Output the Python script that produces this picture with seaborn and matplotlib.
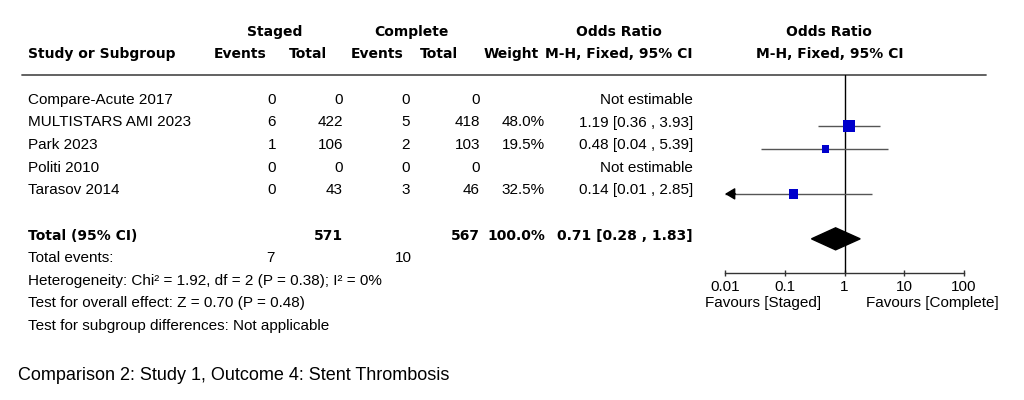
import numpy as np
import pandas as pd
import matplotlib.pyplot as plt
from matplotlib.ticker import NullLocator
import seaborn as sns

# --- Data ---
studies = ['Compare-Acute 2017', 'MULTISTARS AMI 2023', 'Park 2023', 'Politi 2010', 'Tarasov 2014']
staged_events = [0, 6, 1, 0, 0]
staged_total = [0, 422, 106, 0, 43]
complete_events = [0, 5, 2, 0, 3]
complete_total = [0, 418, 103, 0, 46]
weights = [np.nan, 48.0, 19.5, np.nan, 32.5]
or_est = [np.nan, 1.19, 0.48, np.nan, 0.14]
or_lo = [np.nan, 0.36, 0.04, np.nan, 0.01]
or_hi = [np.nan, 3.93, 5.39, np.nan, 2.85]

total_staged = 571
total_complete = 567
total_weight = 100.0
total_or = [0.71, 0.28, 1.83]
total_events = [7, 10]

stats_lines = [
    'Heterogeneity: Chi\u00b2 = 1.92, df = 2 (P = 0.38); I\u00b2 = 0%',
    'Test for overall effect: Z = 0.70 (P = 0.48)',
    'Test for subgroup differences: Not applicable',
]
tick_vals = [0.01, 0.1, 1, 10, 100]
tick_labels = ['0.01', '0.1', '1', '10', '100']
caption = 'Comparison 2: Study 1, Outcome 4: Stent Thrombosis'

df = pd.DataFrame({'study': studies, 'est': or_est, 'lo': or_lo, 'hi': or_hi,
                   'weight': weights})
df['row'] = np.arange(len(df))

# --- Style ---
sns.set_theme(style='white')
plt.rcParams['font.family'] = ['Liberation Sans', 'DejaVu Sans']

fig = plt.figure(figsize=(10.24, 4), dpi=100)

# overlay axes in pixel units for the table text
tab = fig.add_axes([0, 0, 1, 1])
tab.set_xlim(0, 1024)
tab.set_ylim(400, 0)
tab.axis('off')

head = dict(family='DejaVu Sans', weight='bold', size=10, color='black')
body = dict(size=11, color='black')

# header rows
tab.text(275, 36, 'Staged', ha='center', **head)
tab.text(411, 36, 'Complete', ha='center', **head)
tab.text(619, 36, 'Odds Ratio', ha='center', **head)
tab.text(829, 36, 'Odds Ratio', ha='center', **head)
tab.text(28, 58, 'Study or Subgroup', ha='left', **head)
tab.text(240, 58, 'Events', ha='center', **head)
tab.text(308, 58, 'Total', ha='center', **head)
tab.text(377, 58, 'Events', ha='center', **head)
tab.text(439, 58, 'Total', ha='center', **head)
tab.text(511, 58, 'Weight', ha='center', **head)
tab.text(619, 58, 'M-H, Fixed, 95% CI', ha='center', **head)
tab.text(830, 58, 'M-H, Fixed, 95% CI', ha='center', **head)
tab.plot([22, 986], [75, 75], color='#555555', lw=1.3)

# study rows
row_y0, row_dy = 104, 22.5
for i, r in df.iterrows():
    y = row_y0 + row_dy * i
    tab.text(28, y, r['study'], ha='left', **body)
    tab.text(272, y, str(staged_events[i]), ha='center', **body)
    tab.text(343, y, str(staged_total[i]), ha='right', **body)
    tab.text(406, y, str(complete_events[i]), ha='center', **body)
    tab.text(480, y, str(complete_total[i]), ha='right', **body)
    if np.isnan(r['est']):
        tab.text(693, y, 'Not estimable', ha='right', **body)
    else:
        tab.text(545, y, f"{r['weight']:.1f}%", ha='right', **body)
        tab.text(693, y, f"{r['est']:.2f} [{r['lo']:.2f} , {r['hi']:.2f}]", ha='right', **body)

# total block
ty = 240
tab.text(28, ty, 'Total (95% CI)', ha='left', **head)
tab.text(343, ty, str(total_staged), ha='right', **head)
tab.text(480, ty, str(total_complete), ha='right', **head)
tab.text(545, ty, f'{total_weight:.1f}%', ha='right', **head)
tab.text(693, ty, f'{total_or[0]:.2f} [{total_or[1]:.2f} , {total_or[2]:.2f}]', ha='right', **head)
tab.text(28, ty + 22.5, 'Total events:', ha='left', **body)
tab.text(270, ty + 22.5, str(total_events[0]), ha='center', **body)
tab.text(403, ty + 22.5, str(total_events[1]), ha='center', **body)
for k, line in enumerate(stats_lines):
    tab.text(28, ty + 22.5 * (k + 2), line, ha='left', **body)

tab.text(763, 306.5, 'Favours [Staged]', ha='center', **body)
tab.text(932, 306.5, 'Favours [Complete]', ha='center', **body)
tab.text(18, 380, caption, ha='left', size=13, color='black')

# --- Forest panel ---
fx = fig.add_axes([725 / 1024, 0.3175, 239 / 1024, 0.495])
fx.patch.set_alpha(0)
fx.set_xscale('log')
xmin, xmax = tick_vals[0], tick_vals[-1]
fx.set_xlim(xmin, xmax)
fx.set_ylim(7.52, -1.289)
for s in ['top', 'left', 'right']:
    fx.spines[s].set_visible(False)
fx.spines['bottom'].set_color('#333333')
fx.spines['bottom'].set_linewidth(1)
fx.set_xticks(tick_vals)
fx.set_xticklabels(tick_labels)
fx.xaxis.set_minor_locator(NullLocator())
fx.tick_params(axis='x', direction='inout', length=5, width=1, pad=2.5,
               labelsize=11, color='#333333', labelcolor='black', bottom=True)
fx.set_yticks([])

fx.axvline(1, color='black', lw=1, zorder=1)

est = df.dropna(subset=['est'])
lo_clip = est['lo'].clip(lower=xmin)
fx.hlines(est['row'], lo_clip, est['hi'], color='#555555', lw=1, zorder=2)
for _, r in est[est['lo'] <= xmin].iterrows():
    fx.annotate('', xy=(xmin, r['row']), xytext=(xmin * 1.5, r['row']),
                arrowprops=dict(arrowstyle='-|>,head_length=0.5,head_width=0.3',
                                color='black', lw=1, shrinkA=0, shrinkB=0),
                annotation_clip=False, zorder=3)

sns.scatterplot(data=est, x='est', y='row', size='weight', sizes=(0, 75),
                size_norm=(0, 48), marker='s', color='#0000CC', linewidth=0,
                legend=False, ax=fx, zorder=4)
fx.set_xlabel('')
fx.set_ylabel('')

# pooled diamond
d_row = 6
d_h = 0.49
fx.fill([total_or[1], total_or[0], total_or[2], total_or[0]],
        [d_row, d_row - d_h, d_row, d_row + d_h], color='black', zorder=5)

fig.savefig('out.png', dpi=100)
